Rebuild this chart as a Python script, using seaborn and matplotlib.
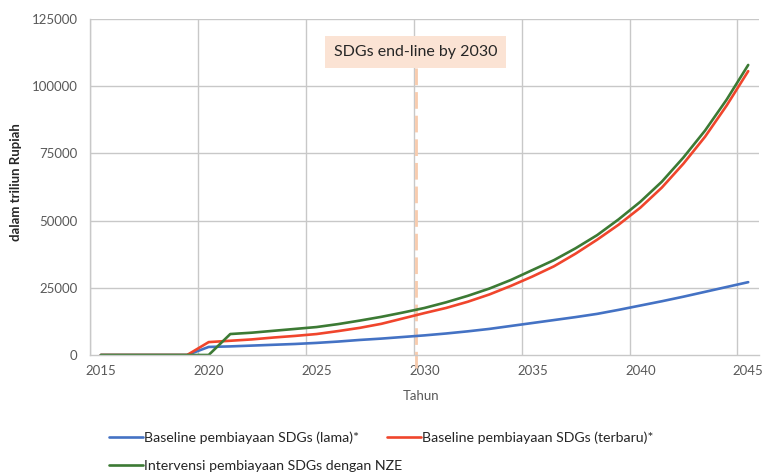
import matplotlib
matplotlib.use("Agg")
import matplotlib.pyplot as plt
import seaborn as sns
import pandas as pd

years = [2015, 2016, 2017, 2018, 2019, 2020, 2021, 2022, 2023, 2024,
         2025, 2026, 2027, 2028, 2029, 2030, 2031, 2032, 2033, 2034,
         2035, 2036, 2037, 2038, 2039, 2040, 2041, 2042, 2043, 2044, 2045]

baseline_lama = [0, 0, 0, 0, 0, 3000, 3200, 3500, 3800, 4100,
                 4500, 5000, 5600, 6100, 6700, 7300, 8000, 8800, 9700, 10800,
                 11900, 13000, 14100, 15300, 16800, 18400, 20000, 21700, 23500, 25300, 27100]

baseline_terbaru = [0, 0, 0, 0, 0, 4800, 5300, 5800, 6500, 7100,
                    7800, 8900, 10100, 11600, 13600, 15600, 17500, 19800, 22500, 25700,
                    29200, 33000, 37700, 42900, 48500, 54800, 62300, 71200, 81200, 92800, 105600]

intervensi_nze = [0, 0, 0, 0, 0, 0, 7800, 8300, 9000, 9700,
                  10400, 11500, 12800, 14200, 15800, 17500, 19600, 22000, 24700, 27900,
                  31600, 35300, 39700, 44600, 50500, 57000, 64500, 73500, 83500, 95000, 107900]

series_names = [
    "Baseline pembiayaan SDGs (lama)*",
    "Baseline pembiayaan SDGs (terbaru)*",
    "Intervensi pembiayaan SDGs dengan NZE",
]
series_colors = ["#4472C4", "#F0452C", "#3C7A34"]
x_ticks = [2015, 2020, 2025, 2030, 2035, 2040, 2045]
y_ticks = [0, 25000, 50000, 75000, 100000, 125000]
endline_year = 2029.6
endline_label = "SDGs end-line by 2030"

df = pd.concat([
    pd.DataFrame({"Tahun": years, "Nilai": vals, "Seri": name})
    for name, vals in zip(series_names, [baseline_lama, baseline_terbaru, intervensi_nze])
])

sns.set_theme(style="white")
plt.rcParams["font.family"] = ["Lato", "DejaVu Sans"]

text_color = "#595959"
grid_color = "#C8C8C8"

fig = plt.figure(figsize=(7.64, 4.74), dpi=100)
ax = fig.add_axes([90 / 764, 1 - 355 / 474, (759 - 90) / 764, (355 - 19) / 474])

sns.lineplot(data=df, x="Tahun", y="Nilai", hue="Seri", hue_order=series_names,
             palette=series_colors, linewidth=1.9, ax=ax, legend=True)

ax.set_xlim(2014.5, 2045.5)
ax.set_ylim(0, 125000)

# gridlines sit between categories, labels on the years themselves
for gx in [2014.5, 2019.5, 2024.5, 2029.5, 2034.5, 2039.5, 2044.5]:
    ax.axvline(gx, color=grid_color, linewidth=1.0, zorder=0)
for gy in y_ticks[1:]:
    ax.axhline(gy, color=grid_color, linewidth=1.0, zorder=0)

ax.set_xticks(x_ticks)
ax.set_xticklabels([str(t) for t in x_ticks])
ax.set_yticks(y_ticks)
ax.set_yticklabels([str(t) for t in y_ticks])
ax.tick_params(axis="both", length=0, labelsize=9.5, labelcolor=text_color)
ax.tick_params(axis="y", pad=9)
ax.tick_params(axis="x", pad=7)

for side in ["top", "right"]:
    ax.spines[side].set_visible(False)
for side in ["left", "bottom"]:
    ax.spines[side].set_color(grid_color)
    ax.spines[side].set_linewidth(1.0)

ax.set_xlabel("Tahun", fontsize=9.5, color=text_color)
ax.xaxis.set_label_coords(0.4948, -0.122)
ax.xaxis.label.set_va("center")
ax.set_ylabel("dalam triliun Rupiah", fontsize=9.5, color="#262626", fontweight="bold")
ax.yaxis.set_label_coords(-0.1106, 0.515)
ax.yaxis.label.set_va("center")

# end-line marker for 2030
ax.axvline(endline_year, ymin=-0.04, ymax=0.855, color="#F8CBAD", linewidth=2.0,
           linestyle=(0, (6, 2.5)), clip_on=False, zorder=1)
ax.text(endline_year, 112700, endline_label, ha="center", va="center",
        fontsize=11.5, color="#262626",
        bbox=dict(boxstyle="square,pad=0.55", facecolor="#FBE3D4", edgecolor="none"))

handles, labels = ax.get_legend_handles_labels()
ax.get_legend().remove()
order = [0, 2, 1]
fig.legend([handles[i] for i in order], [labels[i] for i in order],
           loc="upper left", bbox_to_anchor=(109 / 764, 1 - 431 / 474),
           borderaxespad=0, borderpad=0,
           ncol=2, frameon=False, fontsize=10.2, labelcolor="#262626",
           handlelength=2.4, handletextpad=0.08, columnspacing=-1.1, labelspacing=1.15)

fig.savefig("out.png", dpi=100)
